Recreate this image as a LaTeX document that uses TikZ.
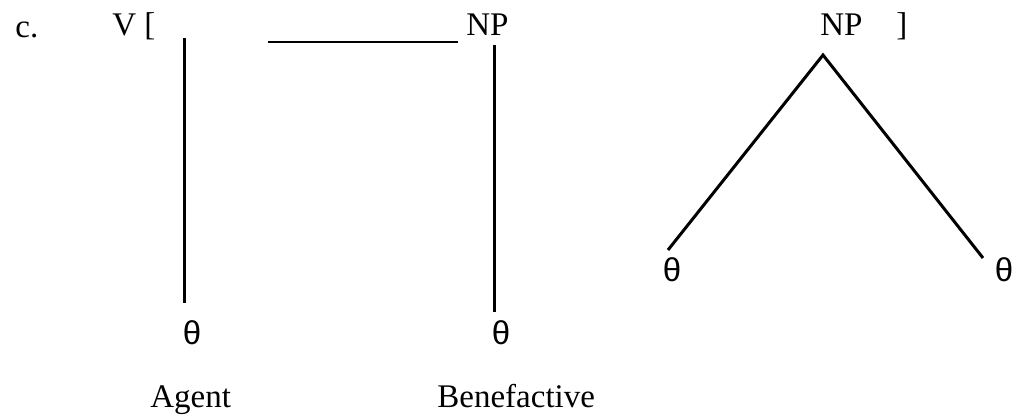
\documentclass[tikz,border=0pt]{standalone}
\usepackage{fontspec}
\setmainfont{Liberation Serif}
\newfontfamily\thetafont{Liberation Sans}
\usetikzlibrary{calc}

\tikzset{
  lbl/.style={inner sep=0pt, anchor=base west, font=\fontsize{16.5}{20}\selectfont},
  th/.style={inner sep=0pt, font=\thetafont\fontsize{16.5}{20}\selectfont},
  stem/.style={line width=1.5pt, line cap=butt},
}

\begin{document}
\begin{tikzpicture}[x=0.5pt, y=-0.5pt]
  \useasboundingbox (0,0) rectangle (1021,418);

  % Frame
  \node[lbl] (ex) at (15,37) {c.};
  \node[lbl] (verb) at (112,35) {V [};
  \node[lbl] (np1) at (466,35) {NP};
  \node[lbl] (np2) at (820,35) {NP};
  \node[lbl] (rbr) at (896,35) {]};
  \coordinate (gapL) at (268,42);
  \coordinate (gapR) at (458,42);
  \draw[line width=0.75pt] (gapL) -- (gapR);

  % Theta roles
  \node[th] (th1) at (192,333) {θ};
  \node[th] (th2) at (501,333) {θ};
  \node[th] (th3) at (672,270) {θ};
  \node[th] (th4) at (1004,270) {θ};

  \node[lbl] (agent) at (150,407) {Agent};
  \node[lbl] (benef) at (437,407) {Benefactive};

  % Links
  \coordinate (top1) at (184,38);
  \coordinate (bot1) at (184,303);
  \coordinate (top2) at (494,45);
  \coordinate (bot2) at (494,312);
  \coordinate (apex) at (823,55);
  \coordinate (endL) at (668,250);
  \coordinate (endR) at (983,258);
  \draw[stem] (top1) -- (bot1);
  \draw[stem] (top2) -- (bot2);
  \draw[stem] (endL) -- (apex) -- (endR);
\end{tikzpicture}
\end{document}
